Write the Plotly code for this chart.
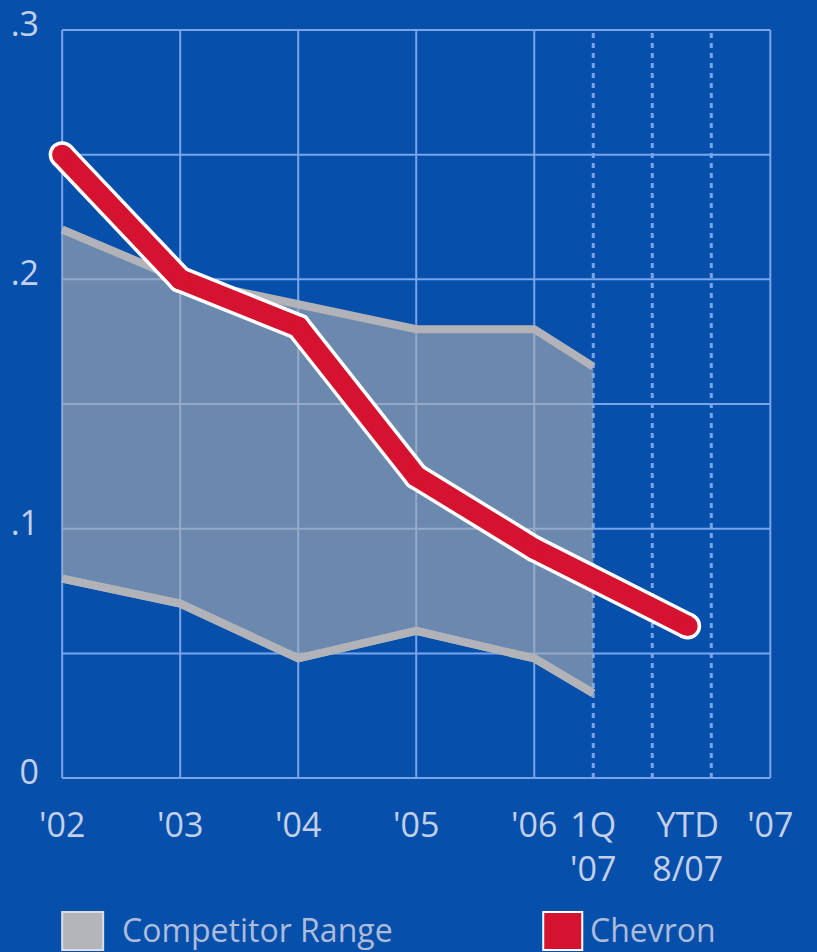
import plotly.graph_objects as go

# ---- data -------------------------------------------------------------
tick_pos = [0, 1, 2, 3, 4, 4.5, 5.3, 6]
tick_text = ["'02", "'03", "'04", "'05", "'06", "1Q<br>'07", "YTD<br>8/07", "'07"]

range_x = [0, 1, 2, 3, 4, 4.5]
range_high = [0.22, 0.20, 0.19, 0.18, 0.18, 0.165]
range_low = [0.080, 0.070, 0.048, 0.059, 0.048, 0.034]

chevron_x = [0, 1, 2, 3, 4, 5.3]
chevron_y = [0.250, 0.200, 0.181, 0.121, 0.092, 0.061]

y_ticks = [0, 0.1, 0.2, 0.3]
y_tick_text = ["0", ".1", ".2", ".3"]

# ---- styling ----------------------------------------------------------
BG = "#0650AC"
GRID = "#79A4EA"
LABEL = "#C4CFE8"
LEG_LABEL = "#AEBCDA"
GREY_LINE = "#B2B3B8"
GREY_FILL = "rgba(170,172,178,0.62)"
RED = "#D5122F"
FONT = "Open Sans"
TICK_SIZE = 34

W, H = 817, 952
# pixel geometry of the grid box
gx0, gx1 = 62, 770
gy_top, gy_bot = 30, 778
ppx = (gx1 - gx0) / 6.0
ppy = (gy_bot - gy_top) / 0.3

xr = [-0.12, 6.15]
yr = [-0.012, 0.304]
left = gx0 + xr[0] * ppx
right = gx0 + xr[1] * ppx
bottom = gy_bot - yr[0] * ppy
top = gy_bot - yr[1] * ppy

fig = go.Figure()

# competitor band
fig.add_trace(go.Scatter(x=range_x, y=range_low, mode="lines",
                         line=dict(color=GREY_LINE, width=8),
                         showlegend=False, hoverinfo="skip"))
fig.add_trace(go.Scatter(x=range_x, y=range_high, mode="lines",
                         line=dict(color=GREY_LINE, width=8),
                         fill="tonexty", fillcolor=GREY_FILL,
                         showlegend=False, hoverinfo="skip"))
# re-draw low edge on top of the fill
fig.add_trace(go.Scatter(x=range_x, y=range_low, mode="lines",
                         line=dict(color=GREY_LINE, width=8),
                         showlegend=False, hoverinfo="skip"))

# Chevron line: white casing under a red stroke, round joins/caps via markers
fig.add_trace(go.Scatter(x=chevron_x, y=chevron_y, mode="lines+markers",
                         line=dict(color="white", width=27),
                         marker=dict(color="white", size=27, line=dict(width=0)),
                         cliponaxis=False, showlegend=False, hoverinfo="skip"))
fig.add_trace(go.Scatter(x=chevron_x, y=chevron_y, mode="lines+markers",
                         line=dict(color=RED, width=20),
                         marker=dict(color=RED, size=20, line=dict(width=0)),
                         cliponaxis=False, showlegend=False, hoverinfo="skip"))

shapes = []
# horizontal grid
for k in range(7):
    yv = k * 0.05
    shapes.append(dict(type="line", xref="x", yref="y", x0=0, x1=6, y0=yv, y1=yv,
                       line=dict(color=GRID, width=2), layer="below"))
# vertical grid: solid at years, dotted inside 2007
for xv in [0, 1, 2, 3, 4, 6]:
    shapes.append(dict(type="line", xref="x", yref="y", x0=xv, x1=xv, y0=0, y1=0.3,
                       line=dict(color=GRID, width=2), layer="below"))
for xv in [4.5, 5.0, 5.5]:
    shapes.append(dict(type="line", xref="x", yref="y", x0=xv, x1=xv, y0=0, y1=0.3,
                       line=dict(color=GRID, width=3, dash="5px,5px"), layer="below"))


def px_x(p):
    return (p - left) / (right - left)


def px_y(p):
    return (bottom - p) / (bottom - top)


# legend swatches
shapes.append(dict(type="rect", xref="paper", yref="paper",
                   x0=px_x(62), x1=px_x(103), y0=px_y(950), y1=px_y(912),
                   fillcolor="#B4B5BA", line=dict(color="#DCDDE2", width=2)))
shapes.append(dict(type="rect", xref="paper", yref="paper",
                   x0=px_x(543), x1=px_x(582), y0=px_y(950), y1=px_y(912),
                   fillcolor=RED, line=dict(color="white", width=2)))

annotations = [
    dict(text="Competitor Range", xref="paper", yref="paper",
         x=px_x(120), y=px_y(929), xanchor="left", yanchor="middle",
         showarrow=False, font=dict(family=FONT, size=32, color=LEG_LABEL)),
    dict(text="Chevron", xref="paper", yref="paper",
         x=px_x(588), y=px_y(929), xanchor="left", yanchor="middle",
         showarrow=False, font=dict(family=FONT, size=32, color=LEG_LABEL)),
]

fig.update_layout(
    width=W, height=H,
    margin=dict(l=left, r=W - right, t=top, b=H - bottom, pad=0),
    paper_bgcolor=BG, plot_bgcolor=BG,
    shapes=shapes, annotations=annotations,
    showlegend=False,
    xaxis=dict(range=xr, showgrid=False, zeroline=False, showline=False,
               automargin=False,
               tickmode="array", tickvals=tick_pos, ticktext=tick_text,
               ticks="", tickfont=dict(family=FONT, size=TICK_SIZE, color=LABEL),
               ticklabelstandoff=-6),
    yaxis=dict(range=yr, showgrid=False, zeroline=False, showline=False,
               automargin=False, ticklabeloverflow="allow",
               tickmode="array", tickvals=y_ticks, ticktext=y_tick_text,
               ticks="", tickfont=dict(family=FONT, size=TICK_SIZE, color=LABEL),
               ticklabelstandoff=8, ticklabelshift=-6),
)

fig.write_html("out.html")
